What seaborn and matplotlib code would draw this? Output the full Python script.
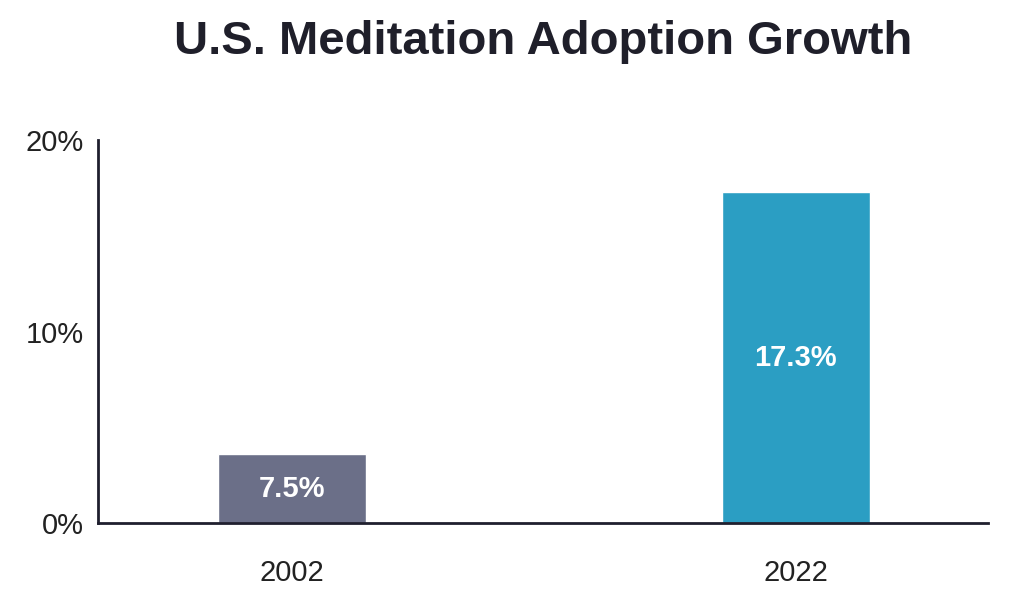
import pandas as pd
import seaborn as sns
from matplotlib import pyplot as plt

years = ["2002", "2022"]
bar_heights = [3.6, 17.3]          # heights as drawn in the picture
bar_labels = ["7.5%", "17.3%"]      # labels as printed on the bars
bar_colors = ["#6b6f88", "#2b9ec3"]
y_ticks = [0, 10, 20]
y_tick_labels = ["0%", "10%", "20%"]

df = pd.DataFrame({"year": years, "share": bar_heights})

sns.set_theme(style="white")
plt.rcParams['font.family'] = ['Liberation Sans', 'DejaVu Sans']

fig = plt.figure(figsize=(10.31, 6.02), dpi=100)
ax = fig.add_axes([0.095, 0.131, 0.863, 0.636])

sns.barplot(data=df, x="year", y="share", hue="year", palette=bar_colors,
            width=0.294, legend=False, saturation=1, ax=ax)

for patch, label in zip(ax.patches, bar_labels):
    ax.text(patch.get_x() + patch.get_width() / 2, patch.get_height() / 2, label,
            ha="center", va="center", color="white", fontsize=21, fontweight="bold")

ax.set_xlim(-0.385, 1.381)
ax.set_ylim(0, 20)
ax.set_yticks(y_ticks)
ax.set_yticklabels(y_tick_labels)
ax.set_xlabel("")
ax.set_ylabel("")
ax.tick_params(axis="both", length=0, labelsize=21, colors="#222222")
ax.tick_params(axis="x", pad=26)
ax.tick_params(axis="y", pad=10)
for t in ax.get_yticklabels():
    t.set_verticalalignment("center_baseline")

sns.despine(ax=ax)
for side in ["left", "bottom"]:
    ax.spines[side].set_color("#1f1f2e")
    ax.spines[side].set_linewidth(2)

fig.text(0.527, 0.93, "U.S. Meditation Adoption Growth", ha="center", va="center",
         fontsize=34, fontweight="bold", color="#1f1f2a")

fig.savefig("out.png", dpi=100, facecolor="white")
